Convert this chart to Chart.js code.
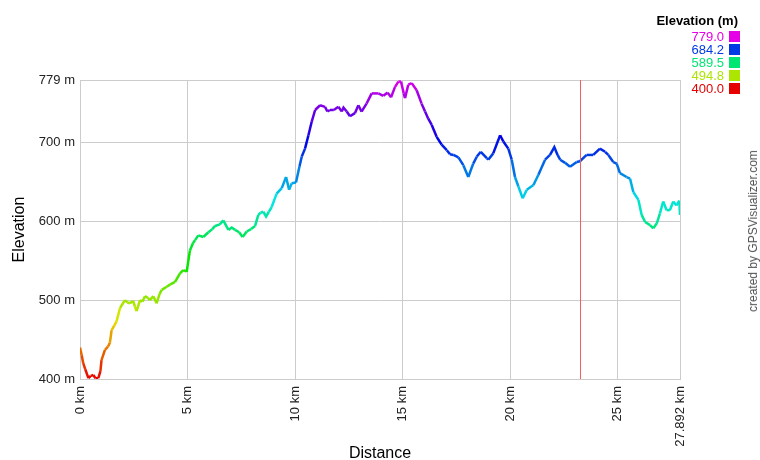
<!DOCTYPE html>
<html>
<head>
<meta charset="utf-8">
<script src="https://cdn.jsdelivr.net/npm/chart.js@4/dist/chart.umd.min.js"></script>
<style>
  body { margin: 0; background: #fff; font-family: 'Liberation Sans', Arial, sans-serif; }
  #wrap { position: relative; width: 760px; height: 460px; }
  #legend { position: absolute; right: 20px; top: 13px; text-align: right; }
  #legend .head { font-weight: bold; font-size: 13px; color: #000; margin-bottom: 2px; margin-right: 2px; }
  #legend .row { font-size: 13px; line-height: 13px; height: 13px; }
  #legend .sw { display: inline-block; width: 11px; height: 11px; margin-left: 5px; vertical-align: -1px; }
  #credit { position: absolute; left: 753px; top: 231px; transform: translate(-50%, -50%) rotate(-90deg);
            white-space: nowrap; font-size: 12px; color: #555; }
</style>
</head>
<body>
<div id="wrap">
  <canvas id="profileChart" width="760" height="460"></canvas>
  <div id="legend"></div>
  <div id="credit">created by GPSVisualizer.com</div>
</div>
<script>
// track profile
let distanceKm = [0.00, 0.08, 0.15, 0.25, 0.39, 0.50, 0.62, 0.72, 0.85, 0.95, 1.00, 1.16, 1.30, 1.39, 1.47, 1.60, 1.70, 1.86,
  2.09, 2.20, 2.32, 2.47, 2.55, 2.63, 2.79, 2.90, 3.02, 3.15, 3.25, 3.41, 3.56, 3.70, 3.80, 4.03, 4.20, 4.42, 4.65, 4.80, 4.96,
  5.11, 5.25, 5.35, 5.50, 5.73, 5.97, 6.15, 6.28, 6.50, 6.66, 6.90, 7.05, 7.21, 7.40, 7.56, 7.75, 7.95, 8.14, 8.29, 8.40, 8.52,
  8.65, 8.78, 8.91, 9.14, 9.38, 9.58, 9.72, 9.84, 10.04, 10.20, 10.31, 10.46, 10.62, 10.77, 10.93, 11.16, 11.39, 11.50, 11.62,
  11.80, 12.01, 12.17, 12.25, 12.40, 12.55, 12.78, 12.94, 13.09, 13.32, 13.56, 13.87, 14.10, 14.30, 14.46, 14.64, 14.80, 14.92,
  15.05, 15.11, 15.26, 15.42, 15.65, 15.88, 16.04, 16.19, 16.35, 16.58, 16.81, 17.05, 17.20, 17.36, 17.59, 17.82, 18.05, 18.28,
  18.45, 18.63, 18.91, 18.98, 19.21, 19.53, 19.68, 19.91, 20.07, 20.22, 20.38, 20.58, 20.77, 21.08, 21.31, 21.62, 21.85, 22.05,
  22.20, 22.32, 22.55, 22.78, 23.09, 23.24, 23.55, 23.86, 24.17, 24.41, 24.56, 24.79, 24.95, 25.10, 25.41, 25.57, 25.72, 25.96,
  26.11, 26.27, 26.50, 26.65, 26.81, 26.96, 27.11, 27.27, 27.42, 27.58, 27.73, 27.86, 27.892];
let elevationM = [440, 430, 420, 412, 401, 404, 405, 401, 401, 410, 424, 437, 441, 446, 462, 468, 473, 490,
  500, 497, 496, 499, 492, 486, 500, 498, 505, 503, 500, 505, 496, 508, 513, 517, 520, 523, 534, 538, 536,
  563, 572, 576, 582, 580, 586, 590, 594, 596, 601, 589, 592, 589, 586, 580, 587, 590, 594, 608, 611, 612,
  606, 612, 618, 635, 642, 656, 640, 648, 649, 669, 682, 692, 709, 726, 741, 747, 745, 739, 741,
  741, 745, 739, 744, 739, 733, 737, 747, 739, 749, 762, 762, 759, 763, 757, 770, 777, 777,
  762, 756, 773, 775, 766, 749, 739, 730, 722, 707, 697, 690, 685, 684, 681, 671, 656, 673,
  682, 688, 680, 678, 686, 709, 701, 692, 678, 656, 644, 629, 640, 646, 659, 678, 684, 694,
  684, 678, 674, 669, 675, 676, 684, 684, 692, 688, 684, 675, 673, 661, 656, 654, 637, 627,
  608, 599, 595, 591, 597, 610, 625, 614, 614, 625, 620, 626, 608];

let xTicks = [0, 5, 10, 15, 20, 25, 27.892];
let yTicks = [400, 500, 600, 700, 779];
let legendValues = [779.0, 684.2, 589.5, 494.8, 400.0];
let markerKm = 23.24;

const yMin = 400, yMax = 779;

// colour by elevation: red at the bottom through to magenta at the top
function elevColor(e) {
    let h = (e - yMin) / (yMax - yMin) * 300;
    return 'hsl(' + h.toFixed(1) + ', 100%, 45%)';
}

// legend
let legend = document.getElementById('legend');
let html = '<div class="head">Elevation (m)</div>';
legendValues.forEach(v => {
    html += '<div class="row" style="color:' + elevColor(v) + '">' + v.toFixed(1) +
        '<span class="sw" style="background:' + elevColor(v) + '"></span></div>';
});
legend.innerHTML = html;

Chart.defaults.font.family = "'Liberation Sans', Arial, sans-serif";
Chart.defaults.color = '#222';

// red marker line
const markerPlugin = {
    id: 'marker',
    afterDatasetsDraw(chart) {
        let x = Math.round(chart.scales.x.getPixelForValue(markerKm)) + 0.5;
        let area = chart.chartArea;
        let c = chart.ctx;
        c.save();
        c.strokeStyle = '#f06060';
        c.lineWidth = 1;
        c.beginPath();
        c.moveTo(x, area.top);
        c.lineTo(x, area.bottom);
        c.stroke();
        c.restore();
    }
};

let ctx = document.getElementById('profileChart').getContext('2d');
let profileChart = new Chart(ctx, {
    type: 'line',
    data: {
        datasets: [{
            data: distanceKm.map((d, i) => ({ x: d, y: elevationM[i] })),
            borderWidth: 2.5,
            pointRadius: 0,
            tension: 0,
            segment: {
                borderColor: c => elevColor((c.p0.parsed.y + c.p1.parsed.y) / 2)
            }
        }]
    },
    options: {
        responsive: false,
        animation: false,
        devicePixelRatio: 1,
        layout: { padding: { top: 80, right: 80, left: 0, bottom: 0 } },
        plugins: { legend: { display: false }, tooltip: { enabled: false } },
        scales: {
            x: {
                type: 'linear',
                min: 0,
                max: 27.892,
                afterBuildTicks: scale => { scale.ticks = xTicks.map(v => ({ value: v })); },
                afterFit: scale => { scale.height = 81; },
                grid: { color: '#ccc', drawTicks: false },
                border: { color: '#ccc' },
                ticks: {
                    autoSkip: false,
                    minRotation: 90,
                    maxRotation: 90,
                    padding: 7,
                    font: { size: 13 },
                    callback: v => v + ' km'
                },
                title: { display: true, text: 'Distance', font: { size: 16, lineHeight: 0.8 }, color: '#000', padding: { top: 0, bottom: 0 } }
            },
            y: {
                min: yMin,
                max: yMax,
                afterBuildTicks: scale => { scale.ticks = yTicks.map(v => ({ value: v })); },
                afterFit: scale => { scale.width = 80; },
                grid: { color: '#ccc', drawTicks: false },
                border: { color: '#ccc' },
                ticks: {
                    padding: 5,
                    font: { size: 13 },
                    callback: v => v + ' m'
                },
                title: { display: true, text: 'Elevation', font: { size: 16 }, color: '#000', padding: { top: 10, bottom: 0 } }
            }
        }
    },
    plugins: [markerPlugin]
});
</script>
</body>
</html>
